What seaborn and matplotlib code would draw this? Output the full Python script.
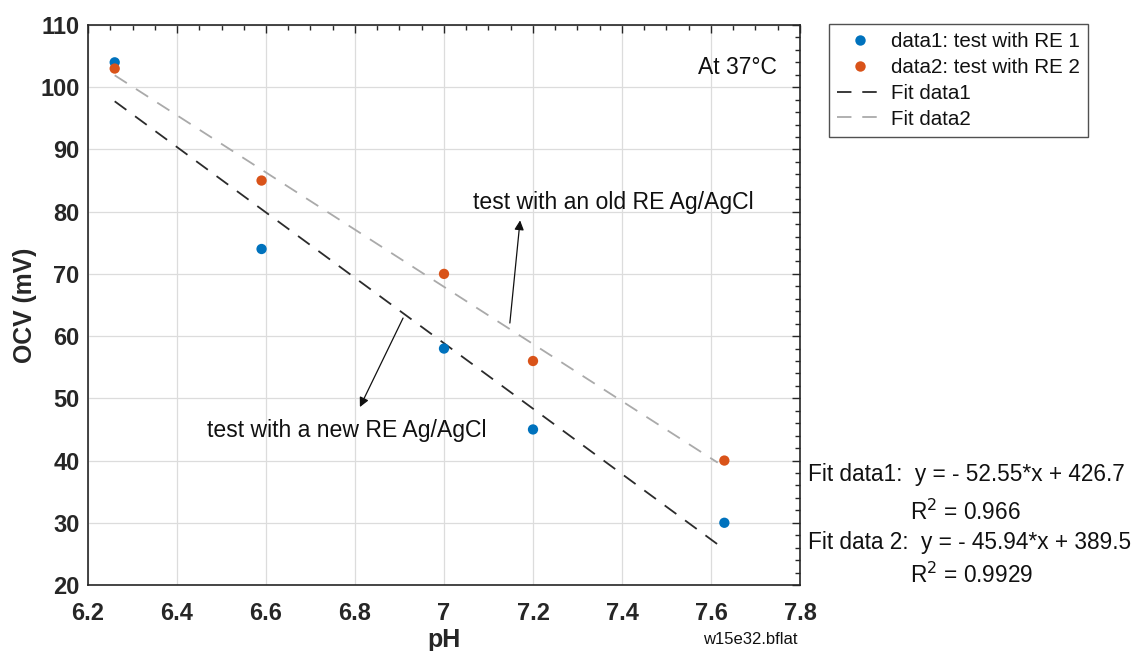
import matplotlib
matplotlib.use("Agg")
import matplotlib.pyplot as plt
import seaborn as sns
import numpy as np
import pandas as pd
from matplotlib.lines import Line2D

# Data
ph_values = [6.26, 6.59, 7.0, 7.2, 7.63]
ocv_re1 = [104, 74, 58, 45, 30]
ocv_re2 = [103, 85, 70, 56, 40]
fit_slopes = [-52.55, -45.94]
fit_intercepts = [426.7, 389.5]
fit_r2 = ["0.966", "0.9929"]
x_ticks = [6.2, 6.4, 6.6, 6.8, 7.0, 7.2, 7.4, 7.6, 7.8]
x_tick_labels = ["6.2", "6.4", "6.6", "6.8", "7", "7.2", "7.4", "7.6", "7.8"]
y_ticks = [20, 30, 40, 50, 60, 70, 80, 90, 100, 110]
series_labels = ["data1: test with RE 1", "data2: test with RE 2"]
fit_labels = ["Fit data1", "Fit data2"]

sns.set_style("white")
plt.rcParams["font.family"] = ["Liberation Sans", "DejaVu Sans"]

fig = plt.figure(figsize=(11.39, 6.51), dpi=100)
ax = fig.add_axes([88/1139, 1-585/651, (800-88)/1139, (585-25)/651])

blue = "#0072BD"
orange = "#D95319"
fit_colors = ["#2b2b2b", "#aaaaaa"]
dash = (0, (8, 6))

df = pd.DataFrame({"pH": ph_values * 2,
                   "OCV": ocv_re1 + ocv_re2,
                   "series": [series_labels[0]] * 5 + [series_labels[1]] * 5})

sns.scatterplot(data=df, x="pH", y="OCV", hue="series",
                palette=[blue, orange], s=55, edgecolor="none", ax=ax, zorder=3,
                legend=False)

x_fit = np.linspace(min(ph_values), 7.615, 50)
for i in range(2):
    y_fit = fit_slopes[i] * x_fit + fit_intercepts[i]
    sns.lineplot(x=x_fit, y=y_fit, ax=ax, color=fit_colors[i], lw=1.3,
                 linestyle=dash, zorder=2)

handles = [
    Line2D([], [], marker="o", ls="none", color=blue, markersize=7.5, markeredgewidth=0),
    Line2D([], [], marker="o", ls="none", color=orange, markersize=7.5, markeredgewidth=0),
    Line2D([], [], color=fit_colors[0], lw=1.3, ls=dash),
    Line2D([], [], color=fit_colors[1], lw=1.3, ls=dash),
]
leg = fig.legend(handles, series_labels + fit_labels, loc="upper left",
                 bbox_to_anchor=(829/1139, 1-24/651), fontsize=14.8,
                 frameon=True, fancybox=False, edgecolor="#262626",
                 borderpad=0.4, labelspacing=0.33, handlelength=2.2,
                 handletextpad=0.4, borderaxespad=0)
leg.get_frame().set_linewidth(1.0)
for t in leg.get_texts():
    t.set_color("#111111")

ax.set_xlim(6.2, 7.8)
ax.set_ylim(20, 110)
ax.set_xticks(x_ticks)
ax.set_xticklabels(x_tick_labels)
ax.set_yticks(y_ticks)
ax.set_xticks(np.arange(6.2, 7.801, 0.05), minor=True)
ax.set_yticks(np.arange(20, 110.1, 2), minor=True)
ax.grid(True, which="major", color="#dcdcdc", lw=0.9)
ax.set_axisbelow(True)
ax.tick_params(which="both", direction="in", top=True, right=True, color="#262626")
ax.tick_params(which="major", length=6, width=1, labelsize=17)
ax.tick_params(axis="x", which="major", pad=12)
ax.tick_params(axis="y", which="major", pad=6)
ax.tick_params(which="minor", length=3.5, width=1)
for lab in ax.get_xticklabels() + ax.get_yticklabels():
    lab.set_fontweight("bold")
    lab.set_color("#262626")
for sp in ax.spines.values():
    sp.set_color("#262626")
    sp.set_linewidth(1.2)

ax.set_xlabel("pH", fontsize=18, fontweight="bold", color="#262626", va="center")
ax.xaxis.set_label_coords(0.5, -(640-585)/560)
ax.set_ylabel("OCV (mV)", fontsize=17.8, fontweight="bold", color="#262626", va="center")
ax.yaxis.set_label_coords((25-88)/712, 0.5)

ax.text(7.748, 103.1, "At 37°C", fontsize=16.5, ha="right", va="center", color="#111111")

ax.text(7.065, 81.4, "test with an old RE Ag/AgCl", fontsize=16.6, va="center",
        ha="left", color="#111111")
ax.annotate("", xy=(7.171, 78.6), xytext=(7.148, 62.1),
            arrowprops=dict(arrowstyle="-|>", color="#111111", lw=0.9,
                            mutation_scale=14, shrinkA=0, shrinkB=0))
ax.text(6.468, 44.9, "test with a new RE Ag/AgCl", fontsize=16.6, va="center",
        ha="left", color="#111111")
ax.annotate("", xy=(6.811, 48.6), xytext=(6.908, 62.9),
            arrowprops=dict(arrowstyle="-|>", color="#111111", lw=0.9,
                            mutation_scale=14, shrinkA=0, shrinkB=0))

fs = 16.3
fig.text(808/1139, 1-474/651, f"Fit data1:  y = - {abs(fit_slopes[0]):.2f}*x + {fit_intercepts[0]}",
         fontsize=fs, va="center", ha="left", color="#111111")
fig.text(910/1139, 1-512/651, f"R$^2$ = {fit_r2[0]}", fontsize=fs, va="center",
         ha="left", color="#111111")
fig.text(808/1139, 1-543/651, f"Fit data 2:  y = - {abs(fit_slopes[1]):.2f}*x + {fit_intercepts[1]}",
         fontsize=fs, va="center", ha="left", color="#111111")
fig.text(910/1139, 1-575/651, f"R$^2$ = {fit_r2[1]}", fontsize=fs, va="center",
         ha="left", color="#111111")
fig.text(750/1139, 1-640/651, "w15e32.bflat", fontsize=12, va="center", ha="center",
         color="#111111")

fig.savefig("out.png", dpi=100)
